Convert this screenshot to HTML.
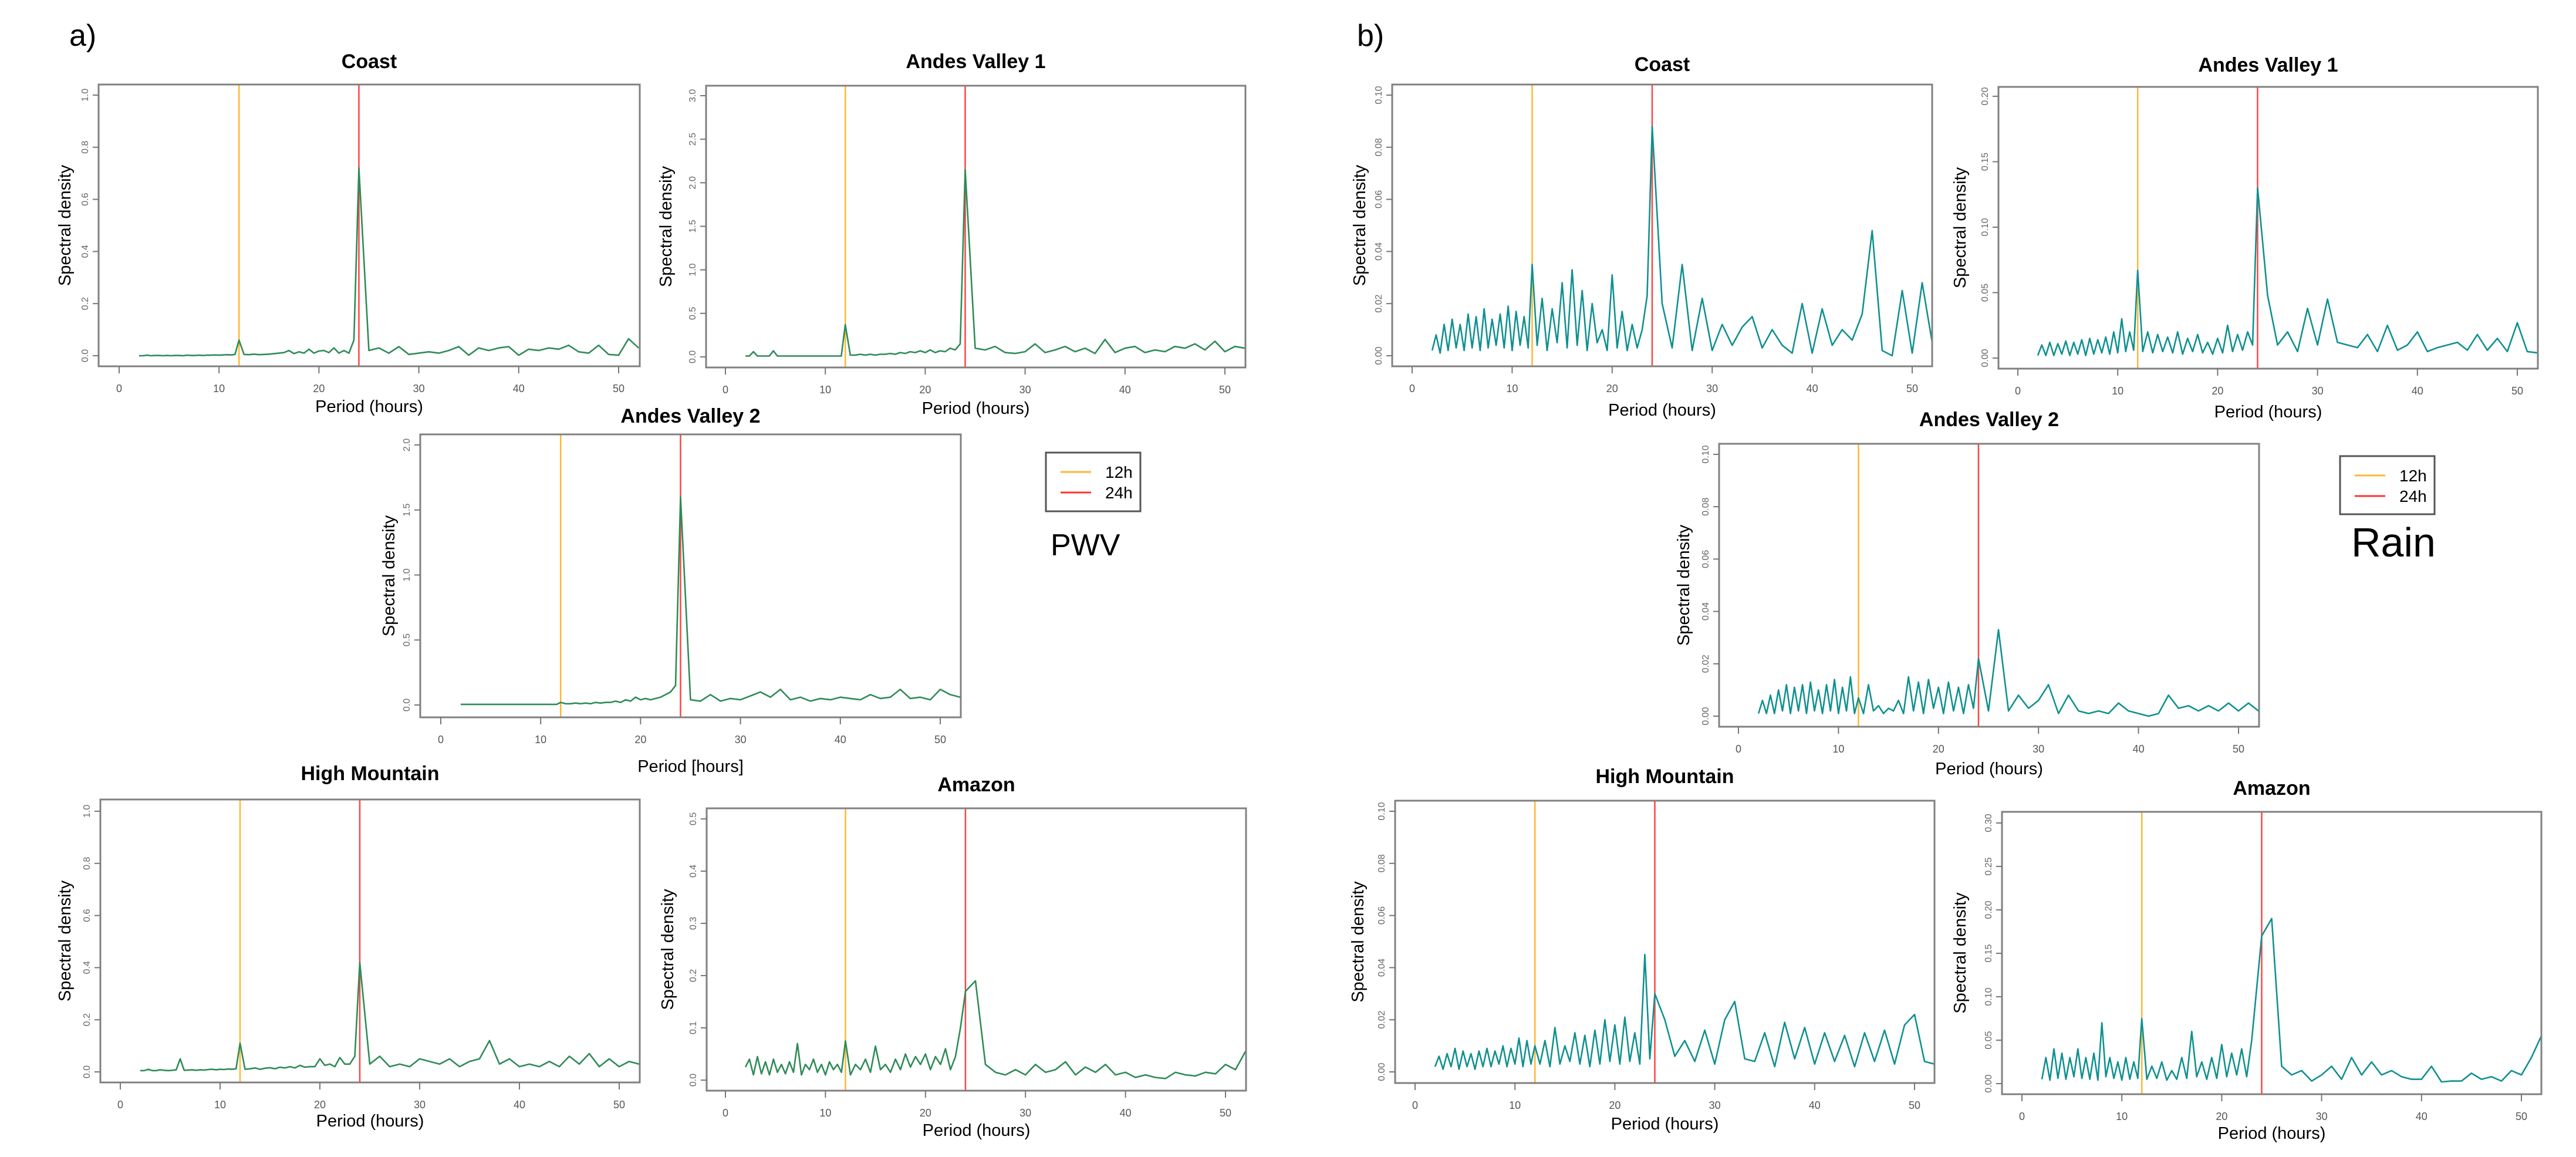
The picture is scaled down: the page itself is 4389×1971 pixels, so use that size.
<!DOCTYPE html>
<html><head><meta charset="utf-8"><style>
html,body{margin:0;padding:0;background:#fff;}
svg{display:block;}
text{font-family:"Liberation Sans",sans-serif;}
</style></head><body>
<svg id="fig" xmlns="http://www.w3.org/2000/svg" width="4389" height="1971" viewBox="0 0 4389 1971">
<rect x="0" y="0" width="4389" height="1971" fill="#fff"/>
<text x="118" y="78" font-size="52">a)</text>
<text x="2312" y="78" font-size="52">b)</text>
<g>
<rect x="1782" y="771" width="161" height="100" fill="#fff" stroke="#555" stroke-width="3"/>
<line x1="1807" y1="804" x2="1859" y2="804" stroke="#ffb732" stroke-width="3"/>
<line x1="1807" y1="839" x2="1859" y2="839" stroke="#ff3333" stroke-width="3"/>
<text x="1883" y="814" font-size="28">12h</text>
<text x="1883" y="849" font-size="28">24h</text>
</g>
<text x="1790" y="946" font-size="52">PWV</text>
<g>
<rect x="3987" y="777" width="161" height="99" fill="#fff" stroke="#555" stroke-width="3"/>
<line x1="4012" y1="810" x2="4064" y2="810" stroke="#ffb732" stroke-width="3"/>
<line x1="4012" y1="845" x2="4064" y2="845" stroke="#ff3333" stroke-width="3"/>
<text x="4088" y="820" font-size="28">12h</text>
<text x="4088" y="855" font-size="28">24h</text>
</g>
<text x="4006" y="948" font-size="70">Rain</text>
</svg>
<script>
const periods = [2,2.4,2.8,3.2,3.6,4,4.4,4.8,5.2,5.6,6,6.4,6.8,7.2,7.6,8,8.4,8.8,9.2,9.6,10,10.4,10.8,11.2,11.6,12,
12.5,13,13.5,14,14.5,15,15.5,16,16.5,17,17.5,18,18.5,19,19.5,20,20.5,21,21.5,22,22.5,23,23.5,24,
25,26,27,28,29,30,31,32,33,34,35,36,37,38,39,40,41,42,43,44,45,46,47,48,49,50,51,52];
const xTicks = [0,10,20,30,40,50];
const refPeriods = [12,24];

const aCoast = [0,0,0.002,0,0.001,0.001,0,0.001,0,0.001,0.001,0,0.002,0.001,0.001,0.002,0.001,0.002,0.002,0.003,0.002,0.003,0.004,0.003,0.005,0.06,
0.005,0.004,0.006,0.004,0.005,0.006,0.008,0.01,0.012,0.02,0.008,0.015,0.01,0.025,0.01,0.018,0.02,0.012,0.03,0.01,0.02,0.01,0.06,0.72,
0.02,0.03,0.01,0.035,0.005,0.01,0.015,0.01,0.02,0.035,0.002,0.03,0.02,0.03,0.035,0.002,0.025,0.02,0.03,0.025,0.04,0.015,0.01,0.04,0.005,0.002,0.065,0.03];
const aAV1 = [0.01,0.01,0.06,0.01,0.01,0.01,0.01,0.07,0.01,0.01,0.01,0.01,0.01,0.01,0.01,0.01,0.01,0.01,0.01,0.01,0.01,0.01,0.01,0.01,0.01,0.37,
0.02,0.02,0.03,0.02,0.03,0.02,0.03,0.03,0.04,0.03,0.05,0.04,0.06,0.05,0.07,0.05,0.08,0.05,0.07,0.06,0.1,0.08,0.15,2.15,
0.1,0.08,0.12,0.05,0.04,0.06,0.15,0.05,0.08,0.12,0.06,0.1,0.04,0.2,0.05,0.1,0.12,0.05,0.08,0.06,0.12,0.1,0.15,0.08,0.18,0.06,0.12,0.1];
const aAV2 = [0.005,0.005,0.005,0.005,0.005,0.005,0.005,0.005,0.005,0.005,0.005,0.005,0.005,0.005,0.005,0.005,0.005,0.005,0.005,0.005,0.005,0.005,0.005,0.005,0.005,0.02,
0.01,0.01,0.015,0.01,0.015,0.01,0.02,0.015,0.02,0.02,0.03,0.02,0.04,0.03,0.06,0.04,0.05,0.04,0.05,0.06,0.08,0.1,0.15,1.6,
0.04,0.03,0.08,0.03,0.05,0.04,0.07,0.1,0.06,0.12,0.04,0.06,0.03,0.05,0.04,0.06,0.05,0.04,0.08,0.05,0.06,0.12,0.05,0.06,0.04,0.12,0.08,0.06];
const aHM = [0.005,0.005,0.01,0.005,0.005,0.008,0.006,0.005,0.006,0.008,0.05,0.006,0.007,0.008,0.006,0.008,0.007,0.009,0.01,0.008,0.01,0.009,0.011,0.01,0.012,0.11,
0.01,0.012,0.015,0.01,0.014,0.016,0.012,0.018,0.015,0.02,0.015,0.025,0.018,0.02,0.02,0.05,0.025,0.03,0.02,0.055,0.03,0.03,0.06,0.42,
0.03,0.06,0.02,0.03,0.02,0.05,0.04,0.03,0.05,0.02,0.04,0.05,0.12,0.03,0.05,0.02,0.03,0.02,0.04,0.02,0.06,0.03,0.07,0.02,0.05,0.02,0.04,0.03];
const aAmz = [0.025,0.04,0.01,0.045,0.012,0.035,0.01,0.04,0.015,0.03,0.012,0.035,0.015,0.07,0.01,0.03,0.02,0.04,0.015,0.03,0.01,0.035,0.02,0.03,0.015,0.075,
0.01,0.03,0.02,0.04,0.015,0.065,0.02,0.03,0.015,0.04,0.02,0.05,0.025,0.045,0.03,0.05,0.02,0.045,0.03,0.06,0.02,0.045,0.1,0.17,
0.19,0.03,0.015,0.01,0.02,0.01,0.03,0.015,0.02,0.035,0.01,0.025,0.015,0.03,0.01,0.015,0.005,0.01,0.005,0.003,0.015,0.01,0.008,0.015,0.012,0.03,0.02,0.055];

const bCoast = [0.002,0.008,0.001,0.012,0.002,0.014,0.003,0.012,0.002,0.016,0.003,0.015,0.002,0.018,0.003,0.014,0.004,0.016,0.003,0.019,0.002,0.017,0.004,0.015,0.003,0.035,
0.004,0.022,0.002,0.018,0.005,0.028,0.003,0.033,0.004,0.025,0.002,0.02,0.005,0.01,0.002,0.031,0.003,0.017,0.002,0.012,0.003,0.01,0.023,0.088,
0.02,0.003,0.035,0.002,0.022,0.002,0.012,0.004,0.011,0.015,0.003,0.01,0.004,0.001,0.02,0.001,0.018,0.004,0.01,0.006,0.016,0.048,0.002,0.0,0.025,0.001,0.028,0.005];
const bAV1 = [0.002,0.01,0.002,0.012,0.002,0.011,0.003,0.013,0.002,0.012,0.003,0.014,0.002,0.015,0.003,0.014,0.004,0.016,0.003,0.02,0.004,0.03,0.005,0.02,0.006,0.067,
0.005,0.02,0.004,0.018,0.005,0.016,0.004,0.02,0.003,0.015,0.005,0.018,0.004,0.012,0.003,0.015,0.004,0.025,0.005,0.018,0.006,0.02,0.01,0.13,
0.048,0.01,0.02,0.005,0.038,0.01,0.045,0.012,0.01,0.008,0.018,0.005,0.025,0.006,0.01,0.02,0.005,0.008,0.01,0.012,0.006,0.018,0.006,0.015,0.005,0.027,0.005,0.004];
const bAV2 = [0.001,0.006,0.001,0.008,0.001,0.01,0.002,0.012,0.001,0.011,0.002,0.012,0.001,0.013,0.002,0.01,0.001,0.012,0.002,0.014,0.001,0.011,0.002,0.015,0.001,0.007,
0.001,0.012,0.002,0.004,0.001,0.003,0.002,0.006,0.001,0.015,0.002,0.013,0.001,0.014,0.003,0.011,0.001,0.013,0.002,0.011,0.001,0.012,0.003,0.022,
0.002,0.033,0.002,0.008,0.003,0.006,0.012,0.001,0.008,0.002,0.001,0.002,0.001,0.005,0.002,0.001,0.0,0.001,0.008,0.003,0.004,0.002,0.004,0.002,0.005,0.002,0.005,0.002];
const bHM = [0.002,0.006,0.001,0.007,0.002,0.009,0.001,0.008,0.002,0.007,0.001,0.008,0.002,0.009,0.002,0.008,0.003,0.01,0.002,0.009,0.003,0.013,0.002,0.012,0.003,0.01,
0.003,0.012,0.002,0.017,0.003,0.01,0.004,0.015,0.003,0.014,0.002,0.016,0.003,0.02,0.004,0.018,0.003,0.021,0.004,0.015,0.003,0.045,0.005,0.03,
0.02,0.006,0.012,0.004,0.016,0.003,0.02,0.027,0.005,0.004,0.015,0.002,0.019,0.005,0.017,0.003,0.015,0.004,0.014,0.002,0.015,0.004,0.016,0.003,0.018,0.022,0.004,0.003];
const bAmz = [0.005,0.03,0.004,0.04,0.006,0.035,0.005,0.03,0.008,0.04,0.006,0.03,0.005,0.035,0.004,0.07,0.008,0.03,0.006,0.025,0.004,0.03,0.005,0.025,0.006,0.075,
0.005,0.02,0.006,0.025,0.004,0.015,0.005,0.03,0.006,0.06,0.008,0.025,0.005,0.03,0.006,0.045,0.008,0.035,0.01,0.04,0.008,0.05,0.11,0.17,
0.19,0.02,0.01,0.015,0.003,0.01,0.02,0.005,0.03,0.01,0.025,0.01,0.015,0.008,0.005,0.005,0.02,0.002,0.003,0.003,0.012,0.005,0.008,0.003,0.015,0.01,0.03,0.055];

const yTicksCoastA = ["0.0","0.2","0.4","0.6","0.8","1.0"];
const yTicksAV1A = ["0.0","0.5","1.0","1.5","2.0","2.5","3.0"];
const yTicksAV2A = ["0.0","0.5","1.0","1.5","2.0"];
const yTicksHMA = ["0.0","0.2","0.4","0.6","0.8","1.0"];
const yTicksAmzA = ["0.0","0.1","0.2","0.3","0.4","0.5"];
const yTicksCoastB = ["0.00","0.02","0.04","0.06","0.08","0.10"];
const yTicksAV1B = ["0.00","0.05","0.10","0.15","0.20"];
const yTicksAV2B = ["0.00","0.02","0.04","0.06","0.08","0.10"];
const yTicksHMB = ["0.00","0.02","0.04","0.06","0.08","0.10"];
const yTicksAmzB = ["0.00","0.05","0.10","0.15","0.20","0.25","0.30"];

const GREEN = "#2e8b57", TEAL = "#0f9090";
const panels = [
 {id:"a-coast",title:"Coast",vals:aCoast,ticks:yTicksCoastA,col:GREEN,L:168,R:1090,T:144,B:624,x0:203,x50:1054,y0:606,yT:162,ty:116,xl:702,yl:120,xlab:"Period (hours)"},
 {id:"a-andes-valley-1",title:"Andes Valley 1",vals:aAV1,ticks:yTicksAV1A,col:GREEN,L:1203,R:2122,T:146,B:626,x0:1236,x50:2087,y0:608,yT:163,ty:116,xl:705,yl:1144,xlab:"Period (hours)"},
 {id:"a-andes-valley-2",title:"Andes Valley 2",vals:aAV2,ticks:yTicksAV2A,col:GREEN,L:716,R:1637,T:740,B:1222,x0:751,x50:1602,y0:1201,yT:758,ty:720,xl:1315,yl:672,xlab:"Period [hours]"},
 {id:"a-high-mountain",title:"High Mountain",vals:aHM,ticks:yTicksHMA,col:GREEN,L:171,R:1090,T:1362,B:1844,x0:205,x50:1055,y0:1826,yT:1382,ty:1329,xl:1919,yl:120,xlab:"Period (hours)"},
 {id:"a-amazon",title:"Amazon",vals:aAmz,ticks:yTicksAmzA,col:GREEN,L:1204,R:2123,T:1377,B:1858,x0:1236,x50:2088,y0:1840,yT:1395,ty:1348,xl:1935,yl:1147,xlab:"Period (hours)"},
 {id:"b-coast",title:"Coast",vals:bCoast,ticks:yTicksCoastB,col:TEAL,L:2372,R:3292,T:144,B:624,x0:2406,x50:3258,y0:606,yT:162,ty:121,xl:708,yl:2326,xlab:"Period (hours)"},
 {id:"b-andes-valley-1",title:"Andes Valley 1",vals:bAV1,ticks:yTicksAV1B,col:TEAL,L:3405,R:4324,T:148,B:628,x0:3438,x50:4289,y0:610,yT:164,ty:122,xl:711,yl:3349,xlab:"Period (hours)"},
 {id:"b-andes-valley-2",title:"Andes Valley 2",vals:bAV2,ticks:yTicksAV2B,col:TEAL,L:2929,R:3849,T:756,B:1238,x0:2962,x50:3814,y0:1220,yT:774,ty:726,xl:1319,yl:2878,xlab:"Period (hours)"},
 {id:"b-high-mountain",title:"High Mountain",vals:bHM,ticks:yTicksHMB,col:TEAL,L:2377,R:3296,T:1364,B:1845,x0:2411,x50:3262,y0:1826,yT:1382,ty:1334,xl:1924,yl:2323,xlab:"Period (hours)"},
 {id:"b-amazon",title:"Amazon",vals:bAmz,ticks:yTicksAmzB,col:TEAL,L:3411,R:4330,T:1383,B:1864,x0:3445,x50:4296,y0:1846,yT:1402,ty:1354,xl:1940,yl:3349,xlab:"Period (hours)"}
];
const NS = "http://www.w3.org/2000/svg";
const svg = document.getElementById("fig");
function mk(tag, attrs, parent){ const e=document.createElementNS(NS,tag); for(const k in attrs) e.setAttribute(k,attrs[k]); (parent||svg).appendChild(e); return e; }

panels.forEach(function(p){
  const g = mk("g",{});
  
  
  const ymax = parseFloat(p.ticks[p.ticks.length-1]);
  const xs = function(v){ return p.x0 + (p.x50 - p.x0) * v / 50; };
  const ys = function(v){ return p.y0 - (p.y0 - p.yT) * v / ymax; };
  const clip = mk("clipPath",{id:"clip-"+p.id}, g);
  mk("rect",{x:p.L,y:p.T,width:p.R-p.L,height:p.B-p.T}, clip);
  // ref lines
  refPeriods.forEach(function(rp, i){
    const ln = mk("line",{x1:xs(rp),x2:xs(rp),y1:p.T,y2:p.B,stroke:i===0?"#ffb732":"#ff4444","stroke-width":2.5}, g);
    
    
  });
  // series
  let d = "";
  p.vals.forEach(function(v, i){ d += (i ? "L" : "M") + xs(periods[i]).toFixed(1) + " " + ys(v).toFixed(1); });
  const path = mk("path",{d:d,fill:"none",stroke:p.col,"stroke-width":2.6,"stroke-linejoin":"round","clip-path":"url(#clip-"+p.id+")"}, g);
  
  
  // frame
  const fr = mk("rect",{x:p.L,y:p.T,width:p.R-p.L,height:p.B-p.T,fill:"none",stroke:"#808080","stroke-width":3}, g);
  
  
  // x ticks
  xTicks.forEach(function(t){
    const x = xs(t);
    mk("line",{x1:x,x2:x,y1:p.B,y2:p.B+12,stroke:"#777","stroke-width":2}, g);
    const tl = mk("text",{x:x,y:p.B+44,"font-size":18,fill:"#555","text-anchor":"middle"}, g);
    tl.textContent = t;
    
    
  });
  // y ticks
  p.ticks.forEach(function(t){
    const y = ys(parseFloat(t));
    mk("line",{x1:p.L-10,x2:p.L,y1:y,y2:y,stroke:"#777","stroke-width":2}, g);
    const tl = mk("text",{x:0,y:0,"font-size":16,fill:"#666","text-anchor":"middle",transform:"translate("+(p.L-18)+","+y+") rotate(-90)"}, g);
    tl.textContent = t;
    
    
  });
  const cx = (p.L + p.R) / 2, cy = (p.T + p.B) / 2;
  const tt = mk("text",{x:cx,y:p.ty,"font-size":34,"font-weight":"bold","text-anchor":"middle",fill:"#000"}, g);
  tt.textContent = p.title;
  
  
  const xl = mk("text",{x:cx,y:p.xl,"font-size":29,"text-anchor":"middle",fill:"#000"}, g);
  xl.textContent = p.xlab;
  
  
  const yl = mk("text",{x:0,y:0,"font-size":29,"text-anchor":"middle",fill:"#000",transform:"translate("+p.yl+","+cy+") rotate(-90)"}, g);
  yl.textContent = "Spectral density";
  
  
});
</script>
</body></html>
